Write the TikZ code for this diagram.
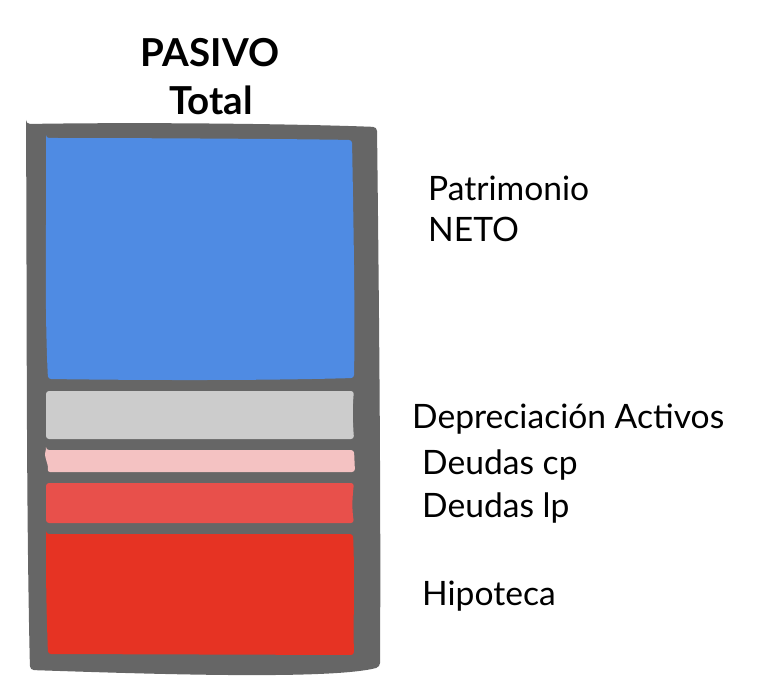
\documentclass[tikz,border=0pt]{standalone}
\usepackage{fontspec}
\setmainfont{Lato}
\definecolor{frame}{HTML}{666666}
\definecolor{neto}{HTML}{4F8BE3}
\definecolor{depre}{HTML}{CCCCCC}
\definecolor{cp}{HTML}{F4C2C2}
\definecolor{lp}{HTML}{E8504B}
\definecolor{hipo}{HTML}{E63323}
\begin{document}
\begin{tikzpicture}[x=1pt, y=-1pt, band/.style = {rounded corners=3pt}, lbl/.style = {anchor=base west, inner sep=0pt, font=\fontsize{33.6}{40}\selectfont}, title/.style = {anchor=base, inner sep=0pt, font=\bfseries\fontsize{38.5}{40}\selectfont}] 
\useasboundingbox (0,0) rectangle (770,700);

% marco exterior
\fill[frame, rounded corners=4pt] (26,124) .. controls (150,122) and (300,124) .. (377,127) .. controls (379,300) and (381,500) .. (380,667) .. controls (330,680) and (150,674) .. (30,670) .. controls (26,500) and (27,300) .. (26,124) -- cycle;

% bandas
\fill[neto, band] (46,138) .. controls (150,138) and (300,139) .. (352,140) .. controls (354,250) and (355,320) .. (354,378) .. controls (250,381) and (120,380) .. (48,379) .. controls (44,300) and (47,200) .. (46,138) -- cycle;
\fill[depre, band] (46,391) -- (354,391) .. controls (352,410) and (353,425) .. (354,439) -- (46,439) -- cycle;
\fill[cp, band] (46,450) -- (354,450) -- (355,472) -- (47,472) .. controls (49,465) and (44,457) .. (46,450) -- cycle;
\fill[lp, band] (46,483) -- (354,483) .. controls (352,500) and (352,510) .. (354,523) -- (46,523) -- cycle;
\fill[hipo, band] (46,534) -- (353,534) .. controls (355,580) and (353,620) .. (354,655) -- (48,654) .. controls (46,600) and (46,570) .. (46,534) -- cycle;

% textos
\node[title] (pasivo) at (210,67) {PASIVO};
\node[title] (total) at (211,115) {Total};
\node[lbl] (patrimonio) at (428,201) {Patrimonio};
\node[lbl] (neto) at (428,242) {NETO};
\node[lbl] (depreciacion) at (412,428) {Depreciación Activos};
\node[lbl] (deudascp) at (422,474) {Deudas cp};
\node[lbl] (deudaslp) at (422,517) {Deudas lp};
\node[lbl] (hipoteca) at (422,605) {Hipoteca};

\end{tikzpicture}
\end{document}
